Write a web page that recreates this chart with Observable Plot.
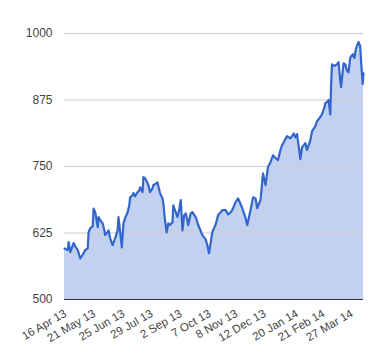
<!DOCTYPE html>
<html>
<head>
<meta charset="utf-8">
<script src="https://cdn.jsdelivr.net/npm/d3@7"></script>
<script src="https://cdn.jsdelivr.net/npm/@observablehq/plot@0.6"></script>
<style>
  html, body { margin: 0; padding: 0; background: #fff; }
  #chart { width: 380px; height: 360px; }
</style>
</head>
<body>
<div id="chart"></div>
<script>
const dates = [
  "2013-04-16","2013-04-20","2013-04-21","2013-04-23","2013-04-27","2013-04-29","2013-05-02","2013-05-05","2013-05-09","2013-05-11",
  "2013-05-14","2013-05-15","2013-05-17","2013-05-20","2013-05-21","2013-05-23","2013-05-26","2013-05-27","2013-05-29","2013-06-01",
  "2013-06-03","2013-06-04","2013-06-07","2013-06-08","2013-06-10","2013-06-13","2013-06-15","2013-06-16","2013-06-19","2013-06-20",
  "2013-06-22","2013-06-24","2013-06-26","2013-06-28","2013-07-01","2013-07-03","2013-07-04","2013-07-07","2013-07-08","2013-07-10",
  "2013-07-13","2013-07-15","2013-07-16","2013-07-19","2013-07-20","2013-07-22","2013-07-25","2013-07-26","2013-07-28","2013-07-31",
  "2013-08-01","2013-08-03","2013-08-06","2013-08-07","2013-08-09","2013-08-12","2013-08-13","2013-08-15","2013-08-17","2013-08-19",
  "2013-08-21","2013-08-24","2013-08-25","2013-08-28","2013-08-30","2013-09-01","2013-09-03","2013-09-05","2013-09-07","2013-09-09",
  "2013-09-11","2013-09-12","2013-09-15","2013-09-17","2013-09-21","2013-09-24","2013-09-29","2013-10-03","2013-10-05","2013-10-07",
  "2013-10-11","2013-10-15","2013-10-18","2013-10-21","2013-10-23","2013-10-27","2013-10-30","2013-11-02","2013-11-04","2013-11-08",
  "2013-11-11","2013-11-14","2013-11-16","2013-11-20","2013-11-22","2013-11-26","2013-11-29","2013-12-02","2013-12-04","2013-12-08",
  "2013-12-11","2013-12-14","2013-12-17","2013-12-20","2013-12-23","2013-12-26","2013-12-29","2014-01-01","2014-01-03","2014-01-06",
  "2014-01-09","2014-01-13","2014-01-17","2014-01-19","2014-01-21","2014-01-25","2014-01-27","2014-01-31","2014-02-02","2014-02-06",
  "2014-02-08","2014-02-12","2014-02-14","2014-02-17","2014-02-20","2014-02-23","2014-02-24","2014-02-26","2014-02-28","2014-03-02",
  "2014-03-03","2014-03-04","2014-03-07","2014-03-08","2014-03-10","2014-03-12","2014-03-14","2014-03-15","2014-03-18","2014-03-20",
  "2014-03-22","2014-03-24","2014-03-26","2014-03-29","2014-03-31","2014-04-02","2014-04-04","2014-04-05","2014-04-07","2014-04-08",
  "2014-04-10","2014-04-11"
];
const values = [
  596,593,608,589,606,600,593,577,587,593,
  596,626,634,638,671,664,636,655,649,643,
  630,621,627,630,615,602,611,615,630,655,
  627,598,643,653,664,677,692,696,700,694,
  702,705,711,702,730,728,719,715,702,709,
  715,717,720,713,700,690,681,649,626,643,
  640,645,677,664,655,668,687,630,658,662,
  649,640,662,664,655,640,621,613,602,587,
  627,641,659,664,668,668,660,664,668,683,
  690,679,672,653,640,668,692,690,672,687,
  737,715,749,758,771,766,762,781,790,799,
  807,803,812,805,811,764,786,794,781,799,
  816,826,835,841,848,861,869,871,875,848,
  903,942,939,940,942,946,912,899,944,942,
  931,927,954,961,954,972,980,984,976,950,
  905,925
];
const tickDates = ["2013-04-16","2013-05-21","2013-06-25","2013-07-29","2013-09-02","2013-10-07","2013-11-08","2013-12-12","2014-01-20","2014-02-21","2014-03-27"];
const tickLabels = ["16 Apr 13","21 May 13","25 Jun 13","29 Jul 13","2 Sep 13","7 Oct 13","8 Nov 13","12 Dec 13","20 Jan 14","21 Feb 14","27 Mar 14"];
const yTicks = [500, 625, 750, 875, 1000];

const data = dates.map((d, i) => ({date: new Date(d), value: values[i]}));
const ticks = tickDates.map((d, i) => ({date: new Date(d), label: tickLabels[i]}));

const chart = Plot.plot({
  width: 380,
  height: 360,
  marginLeft: 64,
  marginRight: 17,
  marginTop: 33,
  marginBottom: 61,
  style: {fontFamily: "Arial, 'Liberation Sans', sans-serif", fontSize: "12px", background: "#fff"},
  x: {type: "utc", domain: [new Date("2013-04-16"), new Date("2014-04-11")], axis: null},
  y: {domain: [500, 1000]},
  marks: [
    Plot.areaY(data, {x: "date", y1: 500, y2: "value", fill: "#c2d1f0"}),
    Plot.gridY(yTicks, {stroke: "#cccccc", strokeOpacity: 1}),
    Plot.ruleY([500], {stroke: "#333333", strokeWidth: 1.2}),
    Plot.lineY(data, {x: "date", y: "value", stroke: "#3366cc", strokeWidth: 2.2}),
    Plot.axisY(yTicks, {tickSize: 0, tickPadding: 12, fontSize: 12, fill: "#444", label: null, tickFormat: d => String(d)}),
    Plot.text(ticks, {x: "date", y: 500, text: "label", rotate: -30, textAnchor: "end", lineAnchor: "middle", dy: 13, dx: 1, fontSize: 11.5, fill: "#444"})
  ]
});
document.getElementById("chart").appendChild(chart);
</script>
</body>
</html>
